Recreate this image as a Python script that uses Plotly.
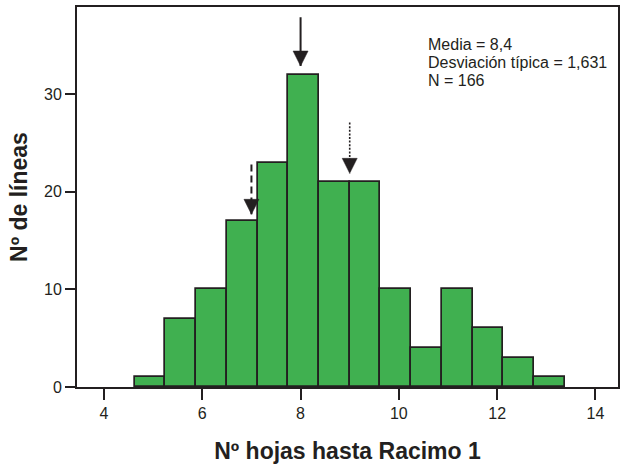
import plotly.graph_objects as go

# Histogram: number of leaves up to the first truss
bin_start = 4.625
bin_width = 0.625
counts = [1, 7, 10, 17, 23, 32, 21, 21, 10, 4, 10, 6, 3, 1]

x_ticks = [4, 6, 8, 10, 12, 14]
y_ticks = [0, 10, 20, 30]

stats_lines = ["Media = 8,4", "Desviación típica = 1,631", "N = 166"]

# Marker arrows: position on x, arrow tip and tail heights, shaft style
arrow_x = [8, 7, 9]
arrow_tip = [32.9, 17.7, 21.9]
arrow_tail = [37.9, 22.8, 27.1]
arrow_dash = ["solid", "7px,4px", "2px,1.6px"]
arrow_width = [2, 2, 1.6]

INK = "#231f20"
GREEN = "#40b050"
FONT = "Liberation Sans, Arial, sans-serif"

centers = [bin_start + (i + 0.5) * bin_width for i in range(len(counts))]

fig = go.Figure(
    go.Bar(
        x=centers,
        y=counts,
        width=bin_width,
        marker=dict(color=GREEN, line=dict(color=INK, width=1.7)),
        hoverinfo="x+y",
    )
)

shapes = []
for xa, tip, tail, dash, w in zip(arrow_x, arrow_tip, arrow_tail, arrow_dash, arrow_width):
    shapes.append(dict(
        type="line", xref="x", yref="y", x0=xa, x1=xa, y0=tail, y1=tip,
        line=dict(color=INK, width=w, dash=dash), layer="above",
    ))
    shapes.append(dict(
        type="path", xref="x", yref="y",
        xsizemode="pixel", ysizemode="pixel", xanchor=xa, yanchor=tip,
        path="M-7.5,15 L7.5,15 L0,0 Z",
        fillcolor=INK, line=dict(color=INK, width=0.5), layer="above",
    ))

# Summary statistics, one annotation per line for a compact block
annotations = []
for i, line in enumerate(stats_lines):
    annotations.append(dict(
        text=line, xref="paper", yref="paper",
        x=0.647, y=0.902 - i * 0.0475, xanchor="left", yanchor="middle",
        showarrow=False, borderpad=0,
        font=dict(family=FONT, size=16, color=INK),
    ))

fig.update_layout(
    width=620, height=475,
    margin=dict(l=77, r=0, t=7, b=88),
    paper_bgcolor="white", plot_bgcolor="white",
    showlegend=False, bargap=0,
    font=dict(family=FONT, color=INK),
    shapes=shapes,
    annotations=annotations,
    xaxis=dict(
        range=[3.45, 14.46],
        tickvals=x_ticks, ticktext=[str(v) for v in x_ticks],
        ticks="outside", ticklen=11, tickwidth=2, tickcolor=INK,
        showline=True, linecolor=INK, linewidth=2, mirror=True,
        showgrid=False, zeroline=False,
        tickfont=dict(family=FONT, size=16, color=INK),
        title=dict(text="Nº hojas hasta Racimo 1", standoff=22,
                   font=dict(family=FONT, size=23, color=INK, weight="bold")),
    ),
    yaxis=dict(
        range=[0, 38.95],
        tickvals=y_ticks, ticktext=[str(v) for v in y_ticks],
        ticks="outside", ticklen=10, tickwidth=2, tickcolor=INK,
        showline=True, linecolor=INK, linewidth=2, mirror=True,
        showgrid=False, zeroline=False,
        tickfont=dict(family=FONT, size=16, color=INK),
        title=dict(text="Nº de líneas", standoff=10,
                   font=dict(family=FONT, size=23, color=INK, weight="bold")),
    ),
)

fig.write_html("out.html")
